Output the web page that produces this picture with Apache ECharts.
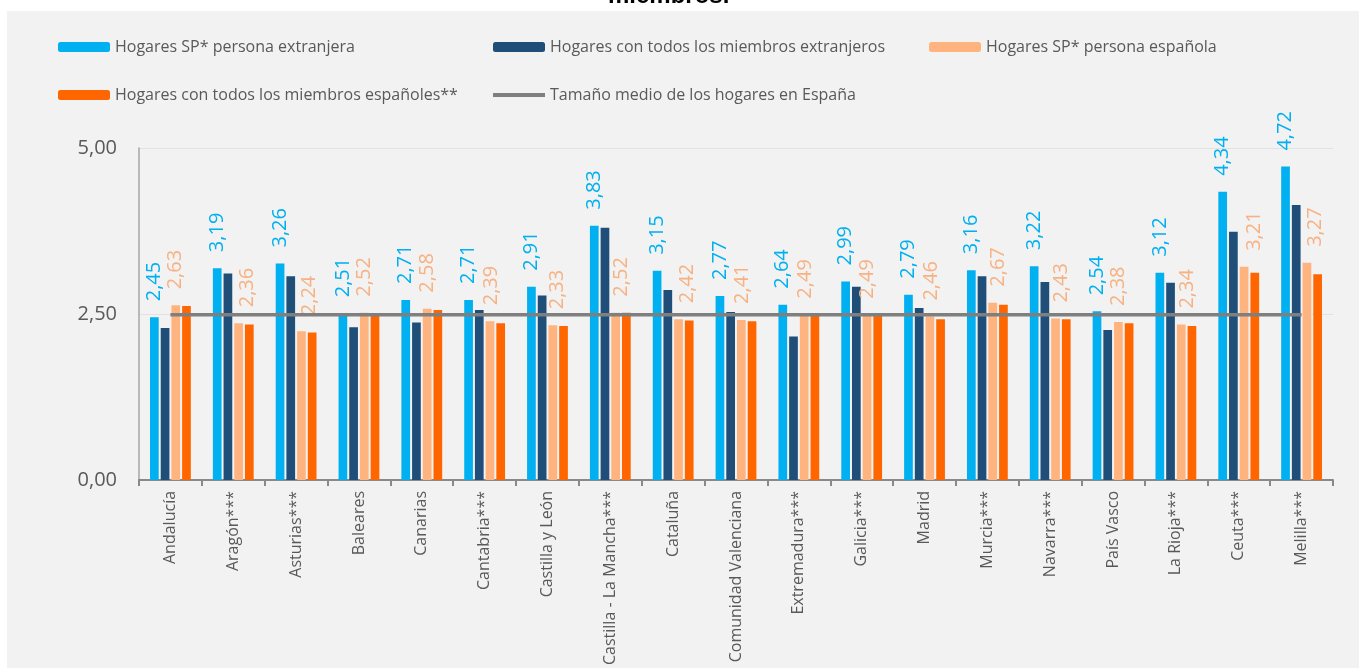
<!DOCTYPE html>
<html>
<head>
<meta charset="utf-8">
<script src="https://cdn.jsdelivr.net/npm/echarts@6/dist/echarts.min.js"></script>
<style>html,body{margin:0;padding:0;background:#fff;}#chart{width:1359px;height:668px;}</style>
</head>
<body>
<div id="chart"></div>
<script>
const regions = ['Andalucía','Aragón***','Asturias***','Baleares','Canarias','Cantabria***','Castilla y León','Castilla - La Mancha***','Cataluña','Comunidad Valenciana','Extremadura***','Galicia***','Madrid','Murcia***','Navarra***','País Vasco','La Rioja***','Ceuta***','Melilla***'];
const spForeign = [2.45,3.19,3.26,2.51,2.71,2.71,2.91,3.83,3.15,2.77,2.64,2.99,2.79,3.16,3.22,2.54,3.12,4.34,4.72];
const allForeign = [2.29,3.11,3.07,2.30,2.37,2.56,2.78,3.80,2.86,2.53,2.16,2.91,2.59,3.07,2.98,2.26,2.97,3.74,4.14];
const spSpanish = [2.63,2.36,2.24,2.52,2.58,2.39,2.33,2.52,2.42,2.41,2.49,2.49,2.46,2.67,2.43,2.38,2.34,3.21,3.27];
const allSpanish = [2.62,2.34,2.22,2.51,2.56,2.36,2.32,2.52,2.40,2.39,2.49,2.49,2.42,2.64,2.42,2.36,2.32,3.12,3.10];
const spainMean = [2.49,2.49,2.49,2.49,2.49,2.49,2.49,2.49,2.49,2.49,2.49,2.49,2.49,2.49,2.49,2.49,2.49,2.49,2.49];
const yTicks = [0, 2.5, 5];

// horizontal nudges (px, to the right) of the "SP* persona española" labels, as placed in the original
const peachLabelShift = [0,9,8,0,0,1,4,6,9,1,1,0,1,6,6,0,6,10,8];

const names = ['Hogares SP* persona extranjera','Hogares con todos los miembros extranjeros','Hogares SP* persona española','Hogares con todos los miembros españoles**','Tamaño medio de los hogares en España'];
const colors = ['#00b0f0','#1f4e79','#ffb47f','#ff6600','#7f7f7f'];
const FONT = 'Open Sans';
const comma = v => v.toFixed(2).replace('.', ',');

function legendItem(i, left, top) {
  return {
    data: [i === 4 ? { name: names[i], icon: 'rect' } : names[i]], left: left, top: top, padding: 0,
    itemWidth: 52, itemHeight: i === 4 ? 4 : 10, itemGap: 5,
    textStyle: { fontFamily: FONT, fontSize: 16, color: '#595959' }
  };
}
function barLabel(color) {
  return {
    show: true, position: 'top', rotate: 90, align: 'left', verticalAlign: 'middle',
    distance: 16, fontFamily: FONT, fontSize: 20, color: color,
    formatter: p => comma(p.value)
  };
}
// label offset is expressed in the rotated text frame: its y component moves the label sideways
const peachData = spSpanish.map((v, i) => ({ value: v, label: { offset: [0, peachLabelShift[i]] } }));

const chart = echarts.init(document.getElementById('chart'), null, { renderer: 'canvas' });
chart.setOption({
  animation: false,
  backgroundColor: '#ffffff',
  color: colors,
  graphic: [{ type: 'rect', z: -10, shape: { x: 7, y: 11, width: 1352, height: 657 }, style: { fill: '#f2f2f2' } }],
  title: { text: 'miembros.', left: 603, top: -21, textStyle: { fontFamily: 'Liberation Sans', fontWeight: 'bold', fontSize: 24, color: '#000' } },
  legend: [
    legendItem(0, 58, 39), legendItem(1, 493, 39), legendItem(2, 929, 39),
    legendItem(3, 58, 87), legendItem(4, 493, 87)
  ],
  grid: { left: 139, right: 26, top: 148, bottom: 188, containLabel: false },
  xAxis: {
    type: 'category', data: regions,
    axisLine: { lineStyle: { color: '#898989', width: 2 } },
    axisTick: { show: true, length: 6, lineStyle: { color: '#898989', width: 2 } },
    axisLabel: { interval: 0, rotate: 90, margin: 11, fontFamily: FONT, fontSize: 16, color: '#595959' }
  },
  yAxis: {
    type: 'value', min: yTicks[0], max: yTicks[2], interval: yTicks[1] - yTicks[0],
    axisLine: { show: true, lineStyle: { color: '#a6a6a6', width: 1.5 } },
    axisTick: { show: false },
    splitLine: { lineStyle: { color: '#e2e2e2', width: 1 } },
    axisLabel: { margin: 22, fontFamily: FONT, fontSize: 20, color: '#595959', formatter: v => comma(v) }
  },
  series: [
    { name: names[0], type: 'bar', data: spForeign, barWidth: 8.7, barGap: '23%', label: barLabel(colors[0]) },
    { name: names[1], type: 'bar', data: allForeign, barWidth: 8.7, barGap: '23%' },
    { name: names[2], type: 'bar', data: peachData, barWidth: 8.7, barGap: '23%', label: barLabel('#f7b283') },
    { name: names[3], type: 'bar', data: allSpanish, barWidth: 8.7, barGap: '23%' },
    { name: names[4], type: 'line', data: spainMean, symbol: 'none', z: 5, lineStyle: { color: colors[4], width: 3.5 } }
  ]
});
</script>
</body>
</html>
